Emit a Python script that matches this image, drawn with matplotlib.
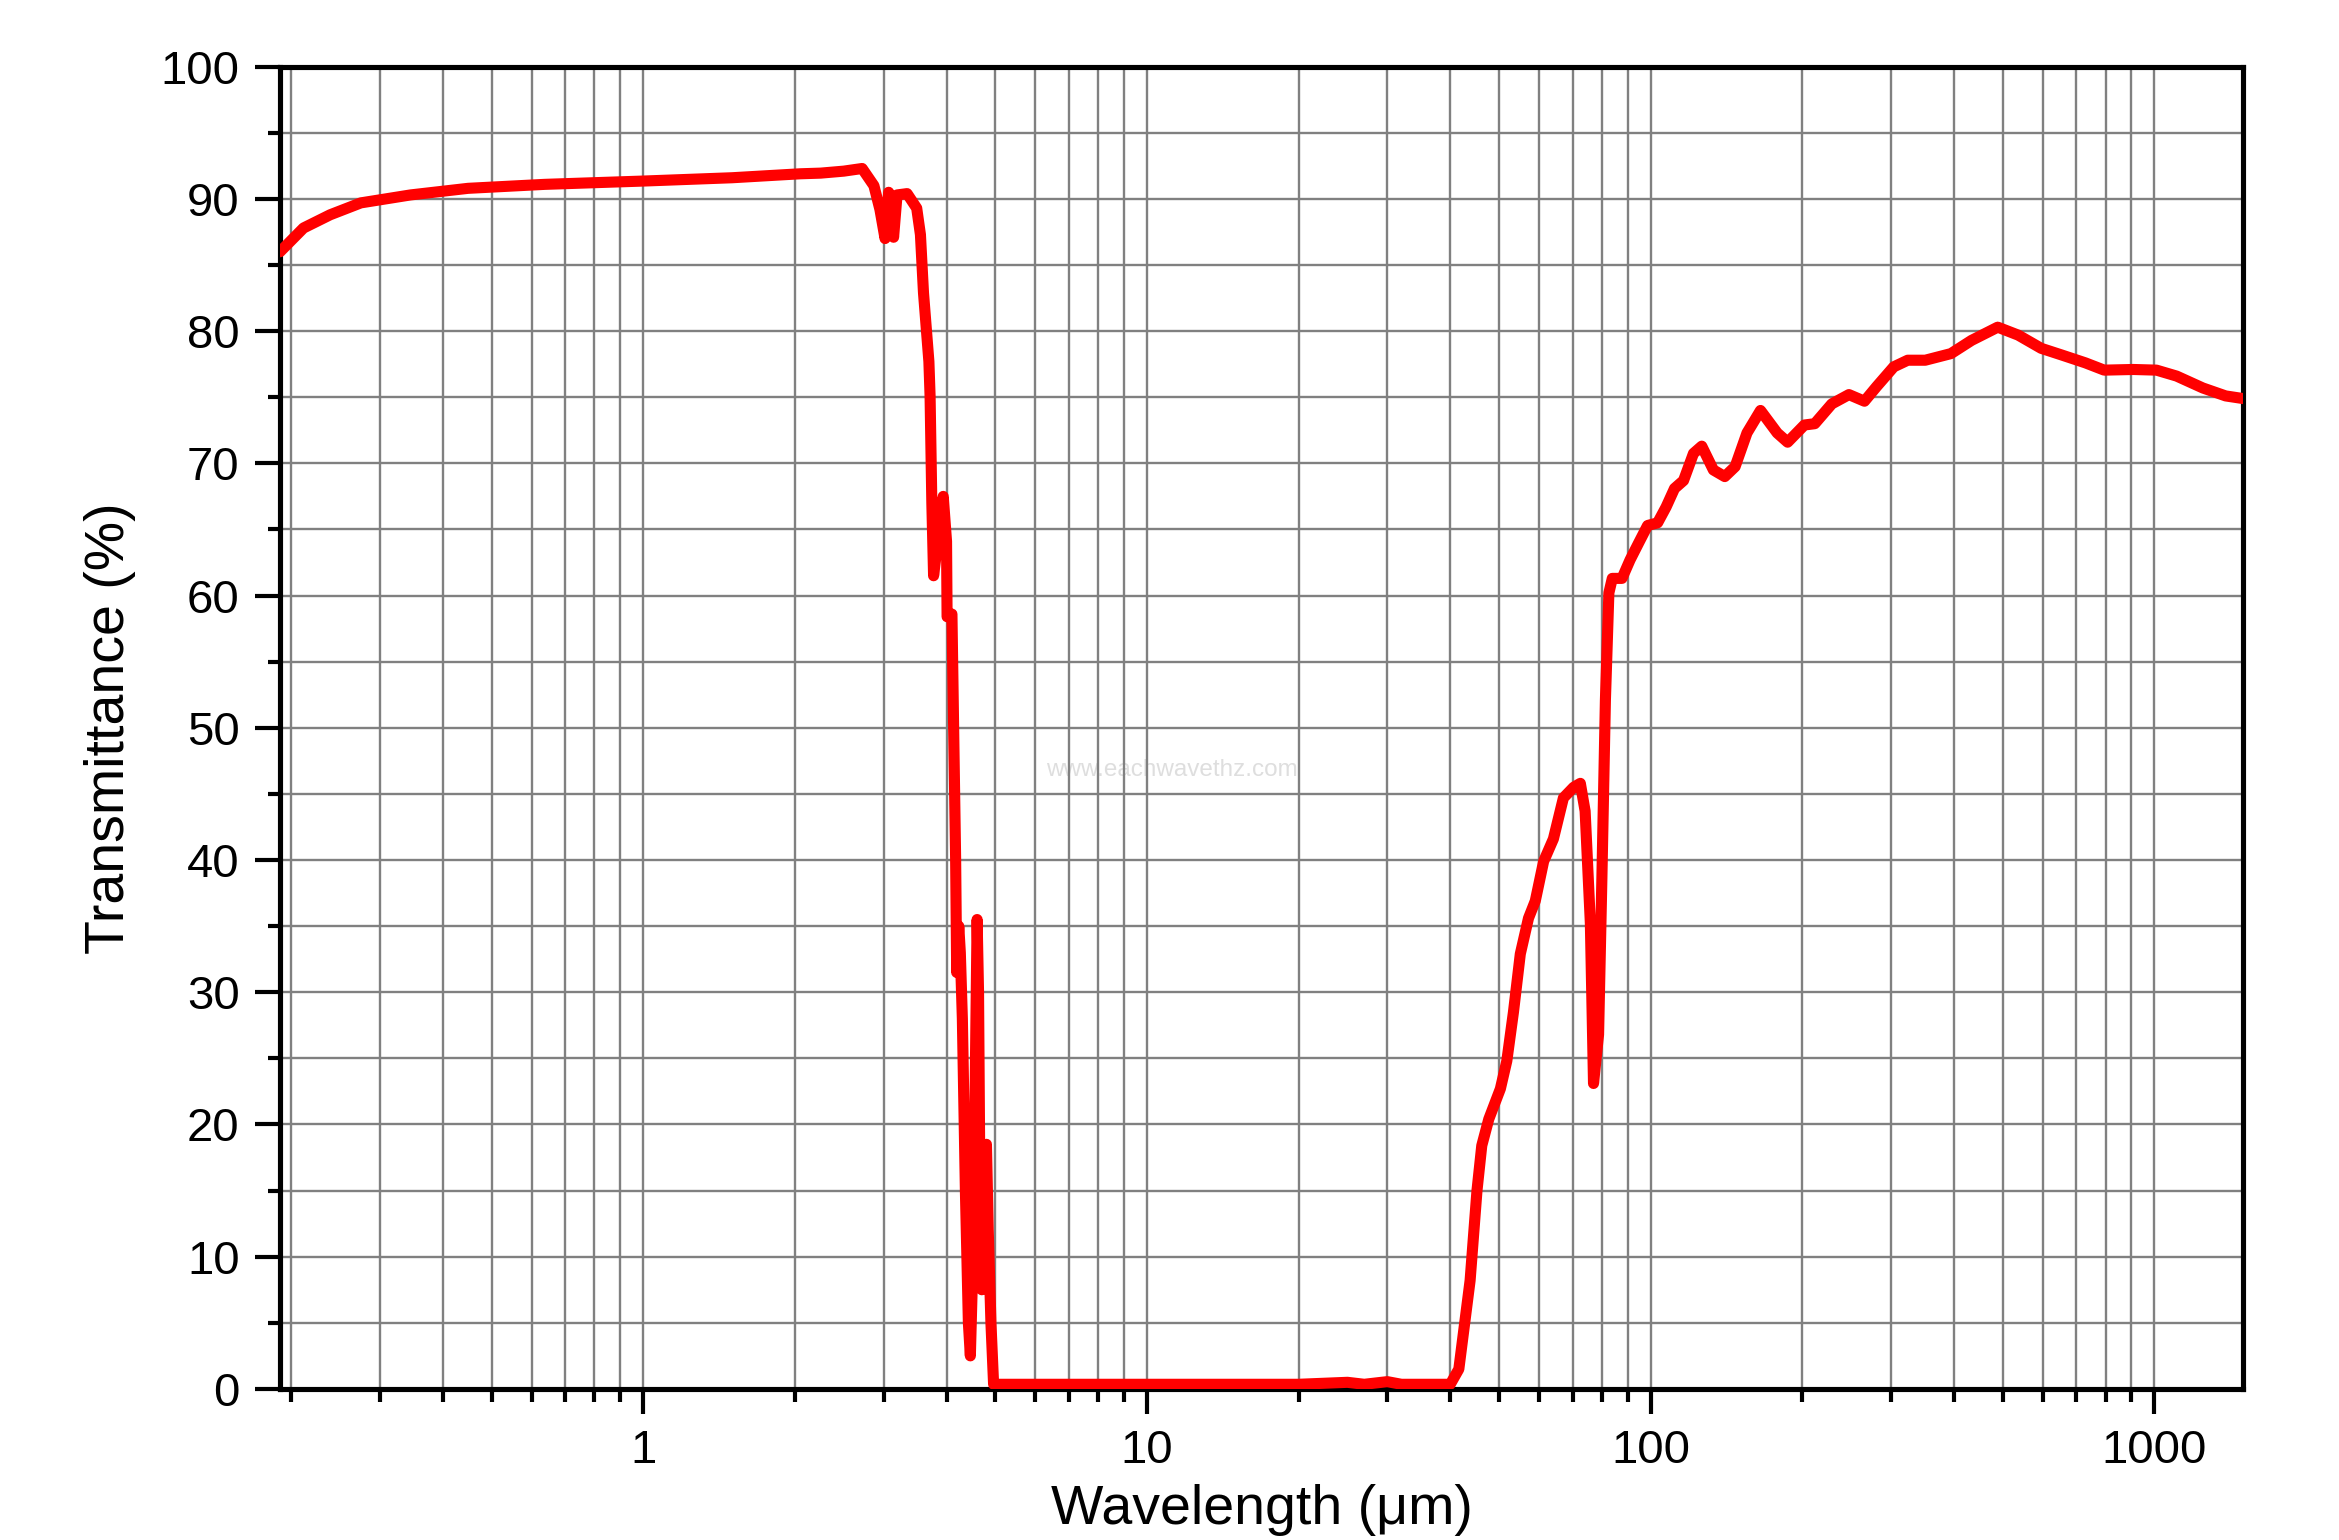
import matplotlib
matplotlib.use("Agg")
import matplotlib.pyplot as plt
from matplotlib.ticker import LogLocator, FixedLocator, NullFormatter, FuncFormatter

plt.rcParams["font.family"] = ["Liberation Sans", "DejaVu Sans"]

# spectrum (wavelength in um, transmittance in %)
wavelength = [
    0.19, 0.2116, 0.239, 0.275, 0.345, 0.449, 0.637, 1.0, 1.5, 2.05,
    2.25, 2.5, 2.72, 2.87, 2.95, 3.02, 3.07, 3.14, 3.19, 3.34, 3.49, 3.55,
    3.60, 3.69, 3.71, 3.74, 3.77, 3.86, 3.94, 4.00, 4.01, 4.10, 4.13,
    4.17, 4.19, 4.23, 4.26, 4.30, 4.36, 4.42, 4.46, 4.50, 4.55, 4.60, 4.63,
    4.66, 4.70, 4.76, 4.80, 4.84, 4.90, 4.96,
    6, 10, 20, 25, 27, 30, 32, 40,
    41.6, 43.8, 45.2, 46.2, 47.7, 50.3, 51.8, 53.4, 55.1, 57.2, 59.0, 61.3,
    64.1, 67.1, 70.3, 72.5, 74.1, 75.9, 77.0, 78.8, 80.0, 81.3, 82.6, 83.9,
    87.7, 91.0, 94.7, 98.6, 103.2, 107.3, 111.5, 116.2, 121.6, 126.3, 133.2,
    140.3, 147.1, 155.3, 165.2, 178.3, 187.0, 201.9, 211.7, 228.9, 247.5,
    265.7, 280.8, 303.8, 323.8, 350.8, 394.5, 433.5, 488.6, 536.5, 596, 654,
    729.5, 795, 907.6, 1009.6, 1107, 1248, 1385, 1500,
]
transmittance = [
    86.0, 87.8, 88.8, 89.7, 90.3, 90.8, 91.1, 91.35, 91.6, 91.9,
    91.95, 92.1, 92.3, 91.0, 89.2, 87.0, 90.5, 87.1, 90.3, 90.4, 89.3, 87.3,
    82.9, 77.7, 75.1, 67.0, 61.5, 64.7, 67.5, 64.1, 58.4, 58.6, 50.5,
    40, 31.5, 35, 33, 28, 15, 5, 2.5, 8, 20, 35.5, 30,
    15, 7.5, 15, 18.5, 12, 5, 0.35,
    0.35, 0.35, 0.35, 0.5, 0.35, 0.55, 0.35, 0.35,
    1.5, 8.2, 15.0, 18.4, 20.4, 22.7, 24.8, 28.5, 32.9, 35.6, 36.9, 39.9,
    41.6, 44.7, 45.5, 45.8, 43.7, 35.2, 23.1, 26.8, 38.6, 52.1, 60.2, 61.3,
    61.3, 62.7, 64.0, 65.3, 65.5, 66.7, 68.1, 68.7, 70.75, 71.3, 69.5,
    69.0, 69.75, 72.3, 74.0, 72.3, 71.6, 72.9, 73.0, 74.5, 75.2,
    74.7, 75.8, 77.3, 77.8, 77.8, 78.3, 79.3, 80.3, 79.7, 78.7, 78.2,
    77.6, 77.05, 77.1, 77.05, 76.6, 75.7, 75.1, 74.9,
]

y_major = [0, 10, 20, 30, 40, 50, 60, 70, 80, 90, 100]
y_minor = [5, 15, 25, 35, 45, 55, 65, 75, 85, 95]

fig = plt.figure(figsize=(23.39, 15.40), dpi=100)
ax = fig.add_axes([0.1197, 0.0981, 0.8393, 0.8586])

ax.plot(wavelength, transmittance, color="#ff0000", linewidth=8,
        solid_joinstyle="round", solid_capstyle="round", zorder=3)

ax.set_xscale("log")
ax.set_xlim(0.19, 1500)
ax.set_ylim(0, 100)

ax.xaxis.set_major_locator(LogLocator(base=10, numticks=20))
ax.xaxis.set_minor_locator(LogLocator(base=10, subs=range(2, 10), numticks=50))
ax.xaxis.set_major_formatter(FuncFormatter(lambda v, p: f"{v:g}"))
ax.xaxis.set_minor_formatter(NullFormatter())
ax.yaxis.set_major_locator(FixedLocator(y_major))
ax.yaxis.set_minor_locator(FixedLocator(y_minor))

ax.grid(True, which="both", color="#808080", linewidth=1.7)
ax.set_axisbelow(True)

for s in ax.spines.values():
    s.set_linewidth(3.7)
    s.set_color("black")

ax.tick_params(which="major", direction="out", length=18, width=3,
               labelsize=34, pad=11, top=False, right=False)
ax.tick_params(which="minor", direction="out", length=9, width=3,
               top=False, right=False)

ax.set_xlabel("Wavelength (μm)", fontsize=40, labelpad=8)
ax.set_ylabel("Transmittance (%)", fontsize=40, labelpad=18)

# faint watermark
ax.text(11.2, 46.8, "www.eachwavethz.com", fontsize=17.5, color="#dedede",
        ha="center", va="center", zorder=0.4)

fig.savefig("out.png", dpi=100)
